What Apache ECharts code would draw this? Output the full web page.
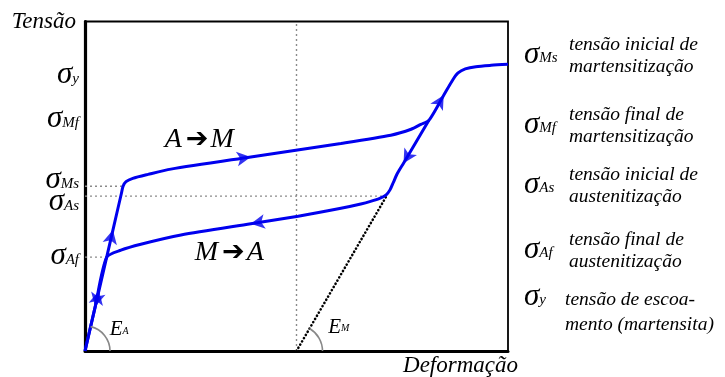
<!DOCTYPE html>
<html><head><meta charset="utf-8">
<script src="https://cdn.jsdelivr.net/npm/echarts@6/dist/echarts.min.js"></script>
<style>html,body{margin:0;padding:0;background:#fff}#c{width:725px;height:377px}</style>
</head><body><div id="c"></div>
<script>
// ---- data (strain / stress in arbitrary schematic units, 0..100) ----
const levelNames = ['y', 'Mf', 'Ms', 'As', 'Af'];
const levelValues = [83.3, 70.0, 50.0, 47.0, 28.5];
const levelGuideEnds = [87.6, 81.3, 9.0, 71.4, 5.1];
const transitionStrain = 50;

const loadingPath = [
  [0, 0], [3.3, 18.3], [6.6, 36.7], [8.6, 47.8], [9.0, 50.0], [9.7, 51.4], [11.3, 52.4],
  [14.9, 53.6], [20.3, 55.2], [39.2, 58.9], [60.5, 63.0], [72.3, 65.5], [77.1, 67.3],
  [79.4, 68.8], [81.3, 70.0], [84.8, 77.6], [87.0, 82.4], [88.2, 84.4], [89.9, 85.6],
  [92.4, 86.3], [96.0, 86.7], [100, 87.0]
];
const loadingArrowAt = [1, 2, 9, 15];

const unloadingPath = [
  [81.3, 70.0], [75.3, 57.0], [73.9, 54.0], [72.9, 51.2], [72.1, 48.9], [71.2, 47.4],
  [69.8, 46.4], [67.5, 45.4], [65.2, 44.6], [60.5, 43.3], [50.4, 40.9], [39.2, 38.6],
  [22.7, 35.2], [13.2, 32.4], [8.5, 30.6], [5.1, 28.4], [2.4, 13.4], [0, 0]
];
const unloadingArrowAt = [1, 11, 16];

const martensiteElastic = [[transitionStrain, 0], [71.4, 47.3]];

const legendKeys = ['Ms', 'Mf', 'As', 'Af', 'y'];
const legendTexts = [
  ['tensão inicial de', 'martensitização'],
  ['tensão final de', 'martensitização'],
  ['tensão inicial de', 'austenitização'],
  ['tensão final de', 'austenitização'],
  ['tensão de escoa-', 'mento (martensita)']
];

// ---- chart ----
const serif = 'Liberation Serif';
const blue = '#0000ee';
const guideStyle = { color: '#8a8a8a', width: 1.4, type: [2, 3] };
const sigmaRich = {
  s: { fontFamily: serif, fontStyle: 'italic', fontSize: 31, lineHeight: 22, verticalAlign: 'bottom', color: '#000' },
  b: { fontFamily: serif, fontStyle: 'italic', fontSize: 15, lineHeight: 22, verticalAlign: 'bottom', color: '#000', padding: [0, 0, 4, 0] }
};

// layout: label boxes nudged a few pixels (Ms above its line, As below its line)
const pxPerUnit = (377 - 21.5 - 26) / 100;
const labelNudgePx = { y: 3, Mf: 3, Ms: -2, As: 10, Af: 3 };
const labelValues = levelValues.map((v, i) => v - (labelNudgePx[levelNames[i]] || 0) / pxPerUnit);

const chart = echarts.init(document.getElementById('c'), null, { renderer: 'canvas' });

const guideSeries = levelValues.map((v, i) => ({
  type: 'line', silent: true, symbol: 'none', z: 1,
  data: [[0, v], [levelGuideEnds[i], v]], lineStyle: guideStyle
}));
guideSeries.push({
  type: 'line', silent: true, symbol: 'none', z: 1,
  data: [[transitionStrain, 0], [transitionStrain, 100]], lineStyle: guideStyle
});

const option = {
  animation: false,
  backgroundColor: '#fff',
  grid: { left: 85, right: 217, top: 21.5, bottom: 26, show: true, borderColor: '#000', borderWidth: 1.8, backgroundColor: 'transparent' },
  xAxis: {
    type: 'value', min: 0, max: 100,
    name: 'Deformação', nameLocation: 'end', nameGap: 10,
    nameTextStyle: { fontFamily: serif, fontStyle: 'italic', fontSize: 23, color: '#000', align: 'right', verticalAlign: 'top', padding: [3, 0, 0, 0] },
    axisLine: { lineStyle: { color: '#000', width: 3 } },
    axisTick: { show: false }, axisLabel: { show: false }, splitLine: { show: false }
  },
  yAxis: {
    type: 'value', min: 0, max: 100,
    name: 'Tensão', nameLocation: 'end', nameGap: 0,
    nameTextStyle: { fontFamily: serif, fontStyle: 'italic', fontSize: 23, color: '#000', align: 'right', verticalAlign: 'middle', padding: [0, 9, 2, 0] },
    axisLine: { lineStyle: { color: '#000', width: 3.2 } },
    axisTick: { show: false }, splitLine: { show: false },
    axisLabel: {
      customValues: labelValues, margin: 6,
      formatter: function (v) {
        let k = 0;
        labelValues.forEach((lv, i) => { if (Math.abs(lv - v) < Math.abs(labelValues[k] - v)) k = i; });
        return '{s|σ}{b|' + levelNames[k] + '}';
      },
      rich: sigmaRich
    }
  },
  series: guideSeries.concat([
    {
      type: 'line', silent: true, symbol: 'none', z: 2,
      data: martensiteElastic,
      lineStyle: { color: '#000', width: 2.6, type: [0.1, 3.6], cap: 'round' }
    },
    {
      name: 'carregamento', type: 'line', symbol: 'none', smooth: 0.25, z: 3,
      data: loadingPath, lineStyle: { color: blue, width: 3 }
    },
    {
      name: 'descarregamento', type: 'line', symbol: 'none', smooth: 0.25, z: 3,
      data: unloadingPath, lineStyle: { color: blue, width: 3 }
    }
  ])
};
chart.setOption(option);

const px = p => chart.convertToPixel({ gridIndex: 0 }, p);
function arrowData(path, idx) {
  return idx.map(i => {
    const a = px(path[i - 1]), b = px(path[i + 1]);
    const ang = Math.atan2(-(b[0] - a[0]), -(b[1] - a[1])) * 180 / Math.PI;
    return { value: path[i], symbolRotate: ang };
  });
}
function arcEl(origin, target, r) {
  const o = px(origin), t = px(target);
  const ang = Math.atan2(o[1] - t[1], t[0] - o[0]);
  return {
    type: 'arc', silent: true, z: 5,
    shape: { cx: o[0], cy: o[1], r: r, startAngle: -ang, endAngle: 0, clockwise: true },
    style: { stroke: '#888', lineWidth: 1.6, fill: 'none' }
  };
}
function textAt(p, rich, str) {
  const q = px(p);
  return { type: 'text', x: q[0], y: q[1], z: 6, silent: true,
    style: { text: str, rich: rich, align: 'center', verticalAlign: 'middle' } };
}

const phaseRich = {
  l: { fontFamily: serif, fontStyle: 'italic', fontSize: 28, color: '#000' },
  r: { fontFamily: 'DejaVu Sans', fontWeight: 'bold', fontSize: 27, color: '#000', padding: [0, 2, 0, 4] }
};
const modRich = {
  e: { fontFamily: serif, fontStyle: 'italic', fontSize: 21, lineHeight: 22, verticalAlign: 'bottom', color: '#000' },
  m: { fontFamily: serif, fontStyle: 'italic', fontSize: 10, lineHeight: 22, verticalAlign: 'bottom', color: '#000', padding: [0, 0, 4, 0] }
};
const legendRich = {
  t: { fontFamily: serif, fontStyle: 'italic', fontSize: 19.5, color: '#000' }
};

const legendCenters = [56, 126, 186, 251, 298];
const legendGraphics = [];
legendKeys.forEach((k, i) => {
  const cy = legendCenters[i];
  const last = i === legendKeys.length - 1;
  const lh = last ? 25 : 21.5;
  legendGraphics.push({ type: 'text', x: 524, y: cy + 3, silent: true,
    style: { text: '{s|σ}{b|' + k + '}', rich: sigmaRich, align: 'left', verticalAlign: 'middle' } });
  legendGraphics.push({ type: 'text', x: last ? 565 : 569, y: last ? cy + 14 : cy, silent: true,
    style: { text: legendTexts[i].map(s => '{t|' + s + '}').join('\n'),
      rich: { t: Object.assign({}, legendRich.t, { lineHeight: lh }) },
      align: 'left', verticalAlign: 'middle' } });
});

chart.setOption({
  series: [
    {
      type: 'scatter', silent: true, z: 4, symbol: 'arrow', symbolSize: [11, 14],
      itemStyle: { color: blue }, data: arrowData(loadingPath, loadingArrowAt)
    },
    {
      type: 'scatter', silent: true, z: 4, symbol: 'arrow', symbolSize: [11, 14],
      itemStyle: { color: blue }, data: arrowData(unloadingPath, unloadingArrowAt)
    }
  ],
  graphic: [
    arcEl([0, 0], loadingPath[4], 25),
    arcEl(martensiteElastic[0], martensiteElastic[1], 26),
    textAt([27.0, 64.0], phaseRich, '{l|A}{r|➔}{l|M}'),
    textAt([34.1, 29.8], phaseRich, '{l|M}{r|➔}{l|A}'),
    textAt([8.1, 6.6], modRich, '{e|E}{m|A}'),
    textAt([60.0, 7.4], modRich, '{e|E}{m|M}')
  ].concat(legendGraphics)
});
</script>
</body></html>
